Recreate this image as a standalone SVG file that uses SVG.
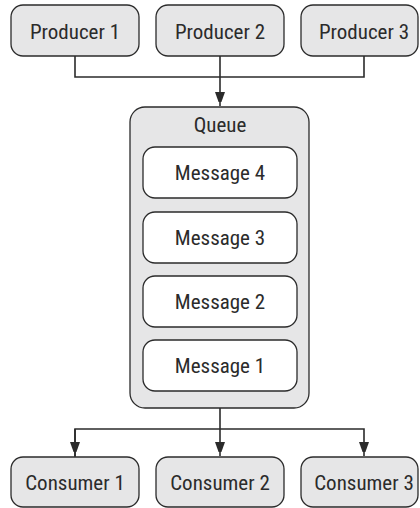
<svg xmlns="http://www.w3.org/2000/svg" width="420" height="508" viewBox="0 0 420 508">
<style>
.box{fill:#e6e6e7;stroke:#2b2b2b;stroke-width:1.3}
.msg{fill:#ffffff;stroke:#2b2b2b;stroke-width:1.3}
.t{font-family:"Liberation Sans Narrow","Roboto Condensed","Liberation Sans",Arial,sans-serif;font-size:21px;fill:#2b2b2b;text-anchor:middle}
.c{fill:none;stroke:#2b2b2b;stroke-width:1.6}
</style>
<defs>
<marker id="ah" markerWidth="10" markerHeight="14" refX="14" refY="5" orient="auto" markerUnits="userSpaceOnUse">
<path d="M0,0 L14,5 L0,10 Z" fill="#2b2b2b"/>
</marker>
</defs>
<rect width="420" height="508" fill="#ffffff"/>
<g id="connectors">
<path class="c" d="M75,56 V77 H364 V56"/>
<path class="c" d="M220,56 V106" marker-end="url(#ah)"/>
<path class="c" d="M220,408 V429"/>
<path class="c" d="M75,457 V429 H364 V456" marker-end="url(#ah)"/>
<path class="c" d="M75,429 V456" marker-end="url(#ah)"/>
<path class="c" d="M220,429 V456" marker-end="url(#ah)"/>
</g>
<g id="producer1"><rect class="box" x="11" y="5" width="128" height="51" rx="12"/><text class="t" x="75" y="39">Producer 1</text></g>
<g id="producer2"><rect class="box" x="156" y="5" width="128" height="51" rx="12"/><text class="t" x="220" y="39">Producer 2</text></g>
<g id="producer3"><rect class="box" x="301" y="5" width="117" height="51" rx="12"/><text class="t" x="364" y="39">Producer 3</text></g>
<g id="queue"><rect class="box" x="130" y="107" width="179" height="301" rx="15"/><text class="t" x="220" y="132">Queue</text></g>
<g id="message4"><rect class="msg" x="143" y="147" width="154" height="51" rx="12"/><text class="t" x="220" y="180">Message 4</text></g>
<g id="message3"><rect class="msg" x="143" y="212" width="154" height="51" rx="12"/><text class="t" x="220" y="245">Message 3</text></g>
<g id="message2"><rect class="msg" x="143" y="276" width="154" height="51" rx="12"/><text class="t" x="220" y="309">Message 2</text></g>
<g id="message1"><rect class="msg" x="143" y="340" width="154" height="51" rx="12"/><text class="t" x="220" y="373">Message 1</text></g>
<g id="consumer1"><rect class="box" x="11" y="457" width="128" height="50" rx="12"/><text class="t" x="75" y="490">Consumer 1</text></g>
<g id="consumer2"><rect class="box" x="156" y="457" width="128" height="50" rx="12"/><text class="t" x="220" y="490">Consumer 2</text></g>
<g id="consumer3"><rect class="box" x="301" y="457" width="117" height="50" rx="12"/><text class="t" x="364" y="490">Consumer 3</text></g>
</svg>
